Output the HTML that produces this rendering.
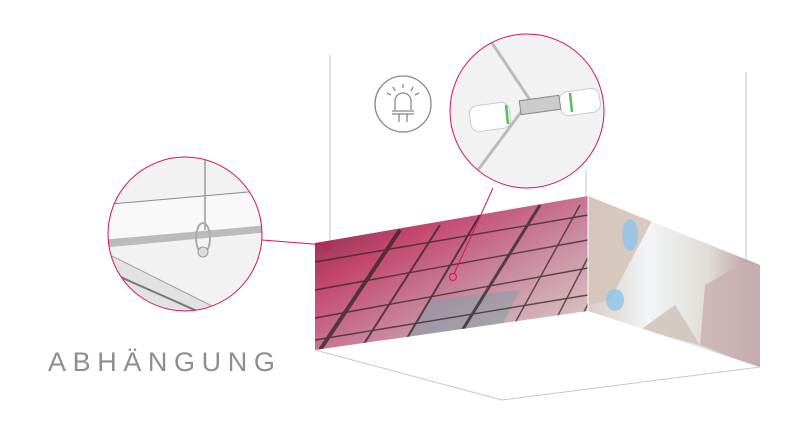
<!DOCTYPE html>
<html><head><meta charset="utf-8"><style>
html,body{margin:0;padding:0;background:#fff;width:808px;height:435px;overflow:hidden}
svg{display:block}
</style></head><body>
<svg width="808" height="435" viewBox="0 0 808 435" xmlns="http://www.w3.org/2000/svg">
<defs>
<linearGradient id="lf" x1="0" y1="0" x2="1" y2="1">
<stop offset="0" stop-color="#6e2840"/><stop offset="0.3" stop-color="#c4466f"/>
<stop offset="0.6" stop-color="#c98aa0"/><stop offset="1" stop-color="#ddd6cc"/></linearGradient>
<linearGradient id="rf" x1="0" y1="0" x2="1" y2="0">
<stop offset="0" stop-color="#d8cdc4"/><stop offset="0.35" stop-color="#f2f5f7"/>
<stop offset="0.7" stop-color="#e0dcd6"/><stop offset="1" stop-color="#b8929c"/></linearGradient>
<clipPath id="cl"><polygon points="315,243 588,196 588,311 315,350"/></clipPath>
<clipPath id="cr"><polygon points="588,196 760,265 760,367 588,311"/></clipPath>
<clipPath id="c1"><circle cx="185" cy="234" r="77"/></clipPath>
<clipPath id="c2"><circle cx="527" cy="111" r="77"/></clipPath>
</defs>
<g stroke="#c8c8c8" stroke-width="1" fill="none">
<line x1="330" y1="55" x2="330" y2="243"/>
<line x1="746" y1="72" x2="746" y2="262"/>
<line x1="586" y1="170" x2="586" y2="196"/>
<polyline points="315,350 502,400 760,367"/>
</g>
<polygon points="315,243 588,196 588,311 315,350" fill="url(#lf)"/>
<g clip-path="url(#cl)">
<polygon points="400,350 430,300 520,290 500,330" fill="#7aa0a8" opacity="0.5"/>
</g>
<g clip-path="url(#cl)" stroke="#2e2424" stroke-width="1.4" opacity="0.75">
<line x1="315" y1="262" x2="588" y2="215"/><line x1="315" y1="290" x2="588" y2="240"/>
<line x1="315" y1="318" x2="588" y2="268"/><line x1="315" y1="340" x2="588" y2="295"/>
<line x1="320" y1="350" x2="400" y2="230" stroke-width="4"/><line x1="360" y1="350" x2="440" y2="225" stroke-width="2"/>
<line x1="400" y1="350" x2="480" y2="215" stroke-width="2"/>
<line x1="450" y1="350" x2="540" y2="205" stroke-width="3"/><line x1="500" y1="350" x2="580" y2="205"/>
<line x1="540" y1="350" x2="610" y2="215"/><line x1="570" y1="340" x2="630" y2="220"/>
</g>
<polygon points="588,196 760,265 760,367 588,311" fill="url(#rf)"/>
<g clip-path="url(#cr)">
<polygon points="588,196 655,215 610,300 588,305" fill="#d5c3b8" opacity="0.85"/>
<ellipse cx="630" cy="235" rx="8" ry="16" fill="#8cc4e8" opacity="0.8"/>
<ellipse cx="615" cy="300" rx="9" ry="11" fill="#8cc4e8" opacity="0.8"/>
<polygon points="705,285 745,262 760,265 760,367 700,345" fill="#c9b2b0" opacity="0.85"/>
<polygon points="640,330 675,305 700,345" fill="#cdc0b8" opacity="0.8"/>
</g>
<line x1="588" y1="196" x2="588" y2="311" stroke="#fff" stroke-width="1"/>
<g stroke="#d4145a" stroke-width="1" fill="none">
<line x1="262" y1="240" x2="326" y2="245"/>
<circle cx="328" cy="246" r="3"/>
<line x1="493" y1="188" x2="454" y2="274"/>
<circle cx="453" cy="277" r="3.5"/>
</g>
<circle cx="185" cy="234" r="77" fill="#f2f2f2"/>
<g clip-path="url(#c1)">
<polygon points="100,205 270,190 270,225 100,245" fill="#f8f8f8" stroke="#888"/>
<polygon points="100,240 270,225 270,232 100,248" fill="#bbb"/>
<polygon points="100,250 240,320 200,330 100,290" fill="#e2e2e2" stroke="#999"/>
<line x1="100" y1="268" x2="240" y2="330" stroke="#777" stroke-width="2"/>
<line x1="205" y1="150" x2="205" y2="230" stroke="#999" stroke-width="1.5"/>
<ellipse cx="203" cy="238" rx="7" ry="15" fill="none" stroke="#aaa" stroke-width="2"/>
<circle cx="203" cy="252" r="5" fill="#ddd" stroke="#999"/>
</g>
<circle cx="185" cy="234" r="77" fill="none" stroke="#d4145a" stroke-width="1"/>
<circle cx="527" cy="111" r="77" fill="#f2f2f2"/>
<g clip-path="url(#c2)">
<line x1="490" y1="40" x2="530" y2="100" stroke="#bbb" stroke-width="3"/>
<line x1="530" y1="100" x2="478" y2="170" stroke="#bbb" stroke-width="3"/>
<rect x="470" y="104" width="40" height="26" rx="8" fill="#fff" stroke="#ccc" transform="rotate(-8 490 117)"/>
<rect x="560" y="90" width="40" height="24" rx="8" fill="#fff" stroke="#ccc" transform="rotate(-8 580 102)"/>
<line x1="506" y1="105" x2="508" y2="124" stroke="#55c060" stroke-width="2.5"/>
<line x1="570" y1="93" x2="572" y2="112" stroke="#55c060" stroke-width="2.5"/>
<rect x="520" y="98" width="40" height="14" fill="#ccc" stroke="#888" transform="rotate(-8 540 105)"/>
</g>
<circle cx="527" cy="111" r="77" fill="none" stroke="#d4145a" stroke-width="1"/>
<circle cx="403" cy="104" r="28" fill="#fff" stroke="#888" stroke-width="1.3"/>
<g stroke="#888" stroke-width="1.3" fill="none">
<path d="M395,110 v-9 a8,8 0 0 1 16,0 v9"/>
<line x1="392" y1="111" x2="414" y2="111"/>
<line x1="392" y1="114" x2="414" y2="114"/>
<line x1="399" y1="114" x2="399" y2="122"/><line x1="407" y1="114" x2="407" y2="122"/>
<line x1="403" y1="84" x2="403" y2="88"/><line x1="393" y1="87" x2="395" y2="91"/>
<line x1="413" y1="87" x2="411" y2="91"/><line x1="387" y1="93" x2="391" y2="95"/>
<line x1="419" y1="93" x2="415" y2="95"/>
</g>
<text x="48" y="371" font-family="Liberation Sans, sans-serif" font-size="27" letter-spacing="6.6" fill="#8e8e8e">ABHÄNGUNG</text>
</svg>
</body></html>
